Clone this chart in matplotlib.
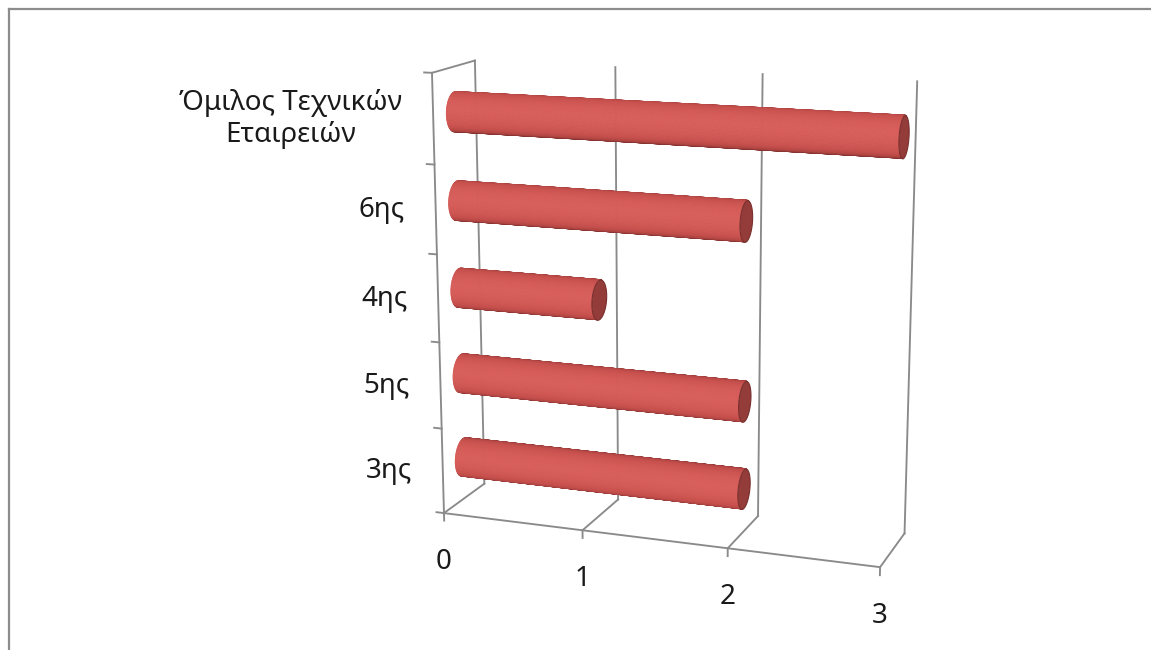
import numpy as np
import matplotlib
matplotlib.use("Agg")
import matplotlib.pyplot as plt
from matplotlib.colors import LinearSegmentedColormap
from matplotlib.lines import Line2D
from matplotlib.transforms import offset_copy
from mpl_toolkits.mplot3d import proj3d
from mpl_toolkits.mplot3d.art3d import Poly3DCollection

# ---- data ----
categories = ["3ης", "5ης", "4ης", "6ης", "Όμιλος Τεχνικών\nΕταιρειών"]
values = [2, 2, 1, 2, 3]
value_ticks = [0, 1, 2, 3]

plt.rcParams['font.family'] = ['Noto Sans', 'DejaVu Sans']

W, H = 1151, 650
fig = plt.figure(figsize=(W / 100, H / 100), dpi=100)
fig.patch.set_facecolor('white')

# chart area border (top and left edges)
border = '#8C8C8C'
fig.add_artist(Line2D([8.5 / W, 8.5 / W], [0, 1 - 8.5 / H],
                      transform=fig.transFigure, color=border, lw=1.6))
fig.add_artist(Line2D([8.5 / W, 1], [1 - 8.5 / H] * 2,
                      transform=fig.transFigure, color=border, lw=1.6))

n = len(categories)
vmax = value_ticks[-1]
box = (0.2109, 0.0457, 0.2080)      # value : depth : height proportions
elev, azim = 13.9, -70.4

ax = fig.add_axes([0, 0, 1, 1], projection='3d', computed_zorder=False)
ax.set_proj_type('persp', focal_length=0.61)
ax.view_init(elev=elev, azim=azim)
ax.set_box_aspect(box)
ax.set_xlim(0, vmax)
ax.set_ylim(0, 1)
ax.set_zlim(0, n)
ax.set_axis_off()
ax.patch.set_alpha(0)

# ---- walls, floor and gridlines ----
grid_c = '#8A8A8A'


def line3(xs, ys, zs):
    ax.plot(xs, ys, zs, color=grid_c, lw=1.35, zorder=1,
            solid_capstyle='projecting')


tick_dx = 0.055     # category tick length (value units)
tick_dz = 0.09      # value tick length (category units)
for v in value_ticks:
    line3([v, v], [1, 1], [0, n])          # back wall gridline
    line3([v, v], [0, 1], [0, 0])          # floor gridline
    line3([v, v], [0, 0], [0, -tick_dz])   # tick mark
line3([0, vmax], [0, 0], [0, 0])           # front edge of floor
line3([0, 0], [0, 0], [0, n])              # front edge of side wall
line3([0, 0], [0, 1], [n, n])              # top edge of side wall
for k in range(n + 1):
    line3([0, -tick_dx], [0, 0], [k, k])

# ---- cylinders ----
r_cat = 0.222                                  # radius in category units
ry = r_cat * (box[2] / n) / box[1]             # same radius in depth units
theta = np.linspace(0, 2 * np.pi, 97)
e, a = np.deg2rad(elev), np.deg2rad(azim)
view = np.array([np.cos(e) * np.cos(a), np.cos(e) * np.sin(a), np.sin(e)])
light = view + np.array([0.0, 0.0, 0.08])
light /= np.linalg.norm(light)
shade = LinearSegmentedColormap.from_list(
    'cyl', [(0.0, '#843230'), (0.2, '#AE4441'), (0.5, '#C6504D'),
            (0.85, '#D35A56'), (1.0, '#D9605C')])

for i, v in enumerate(values):
    zc = i + 0.5
    quads, cols = [], []
    for t0, t1 in zip(theta[:-1], theta[1:]):
        tm = 0.5 * (t0 + t1)
        nrm = np.array([0.0, np.cos(tm), np.sin(tm)])
        if nrm @ view < -0.25:
            continue
        y0, y1 = 0.5 + ry * np.cos(t0), 0.5 + ry * np.cos(t1)
        z0, z1 = zc + r_cat * np.sin(t0), zc + r_cat * np.sin(t1)
        quads.append([(0, y0, z0), (v, y0, z0), (v, y1, z1), (0, y1, z1)])
        cols.append(shade(float(np.clip(nrm @ light, 0, 1))))
    ax.add_collection3d(Poly3DCollection(quads, facecolors=cols, edgecolors=cols,
                                         linewidths=0.6, zorder=3))
    cap = [(v, 0.5 + ry * np.cos(t), zc + r_cat * np.sin(t)) for t in theta]
    ax.add_collection3d(Poly3DCollection([cap], facecolors='#933C39',
                                         edgecolors='#7A2F2D', linewidths=0.8,
                                         zorder=4))


# ---- place the plot box on the canvas ----
def to_2d(pts):
    pts = np.asarray(pts, float)
    xs, ys, _ = proj3d.proj_transform(pts[:, 0], pts[:, 1], pts[:, 2], ax.get_proj())
    return np.column_stack([xs, ys])


frame_pts = [(0, 0, 0), (vmax, 0, 0), (0, 1, 0), (vmax, 1, 0),
             (0, 1, n), (vmax, 1, n), (0, 0, n)]
frame_px = [(445, 512), (879, 567), (485, 483), (904, 535),
            (473, 61), (919, 81), (432, 73)]

ax.apply_aspect()
d = ax.transData.transform(to_2d(frame_pts))
t = np.array([(x, H - y) for x, y in frame_px], float)
dm, tm_ = d.mean(0), t.mean(0)
s = ((d - dm) * (t - tm_)).sum() / ((d - dm) ** 2).sum()
A = tm_ - s * dm
pos = ax.get_position()
L0 = np.array([pos.x0 * W, pos.y0 * H])
S0 = pos.width * W
L1 = A + s * L0
S1 = s * S0
ax.set_position([L1[0] / W, L1[1] / H, S1 / W, S1 / H])
ax.apply_aspect()

# ---- tick labels ----
label_kw = dict(fontsize=20, color='#1A1A1A')
cat_xy = to_2d([(0, 0, k + 0.5) for k in range(n)])
cat_tr = offset_copy(ax.transData, fig=fig, x=-31, y=0, units='dots')
for (x2, y2), lab in zip(cat_xy, categories):
    ax.text2D(x2, y2, lab, transform=cat_tr, ha='right', va='center',
              multialignment='center', **label_kw)

val_xy = to_2d([(v, 0, 0) for v in value_ticks])
val_tr = offset_copy(ax.transData, fig=fig, x=0, y=-49, units='dots')
for (x2, y2), v in zip(val_xy, value_ticks):
    ax.text2D(x2, y2, str(v), transform=val_tr, ha='center', va='center', **label_kw)

fig.savefig('out.png', dpi=100, facecolor='white')
